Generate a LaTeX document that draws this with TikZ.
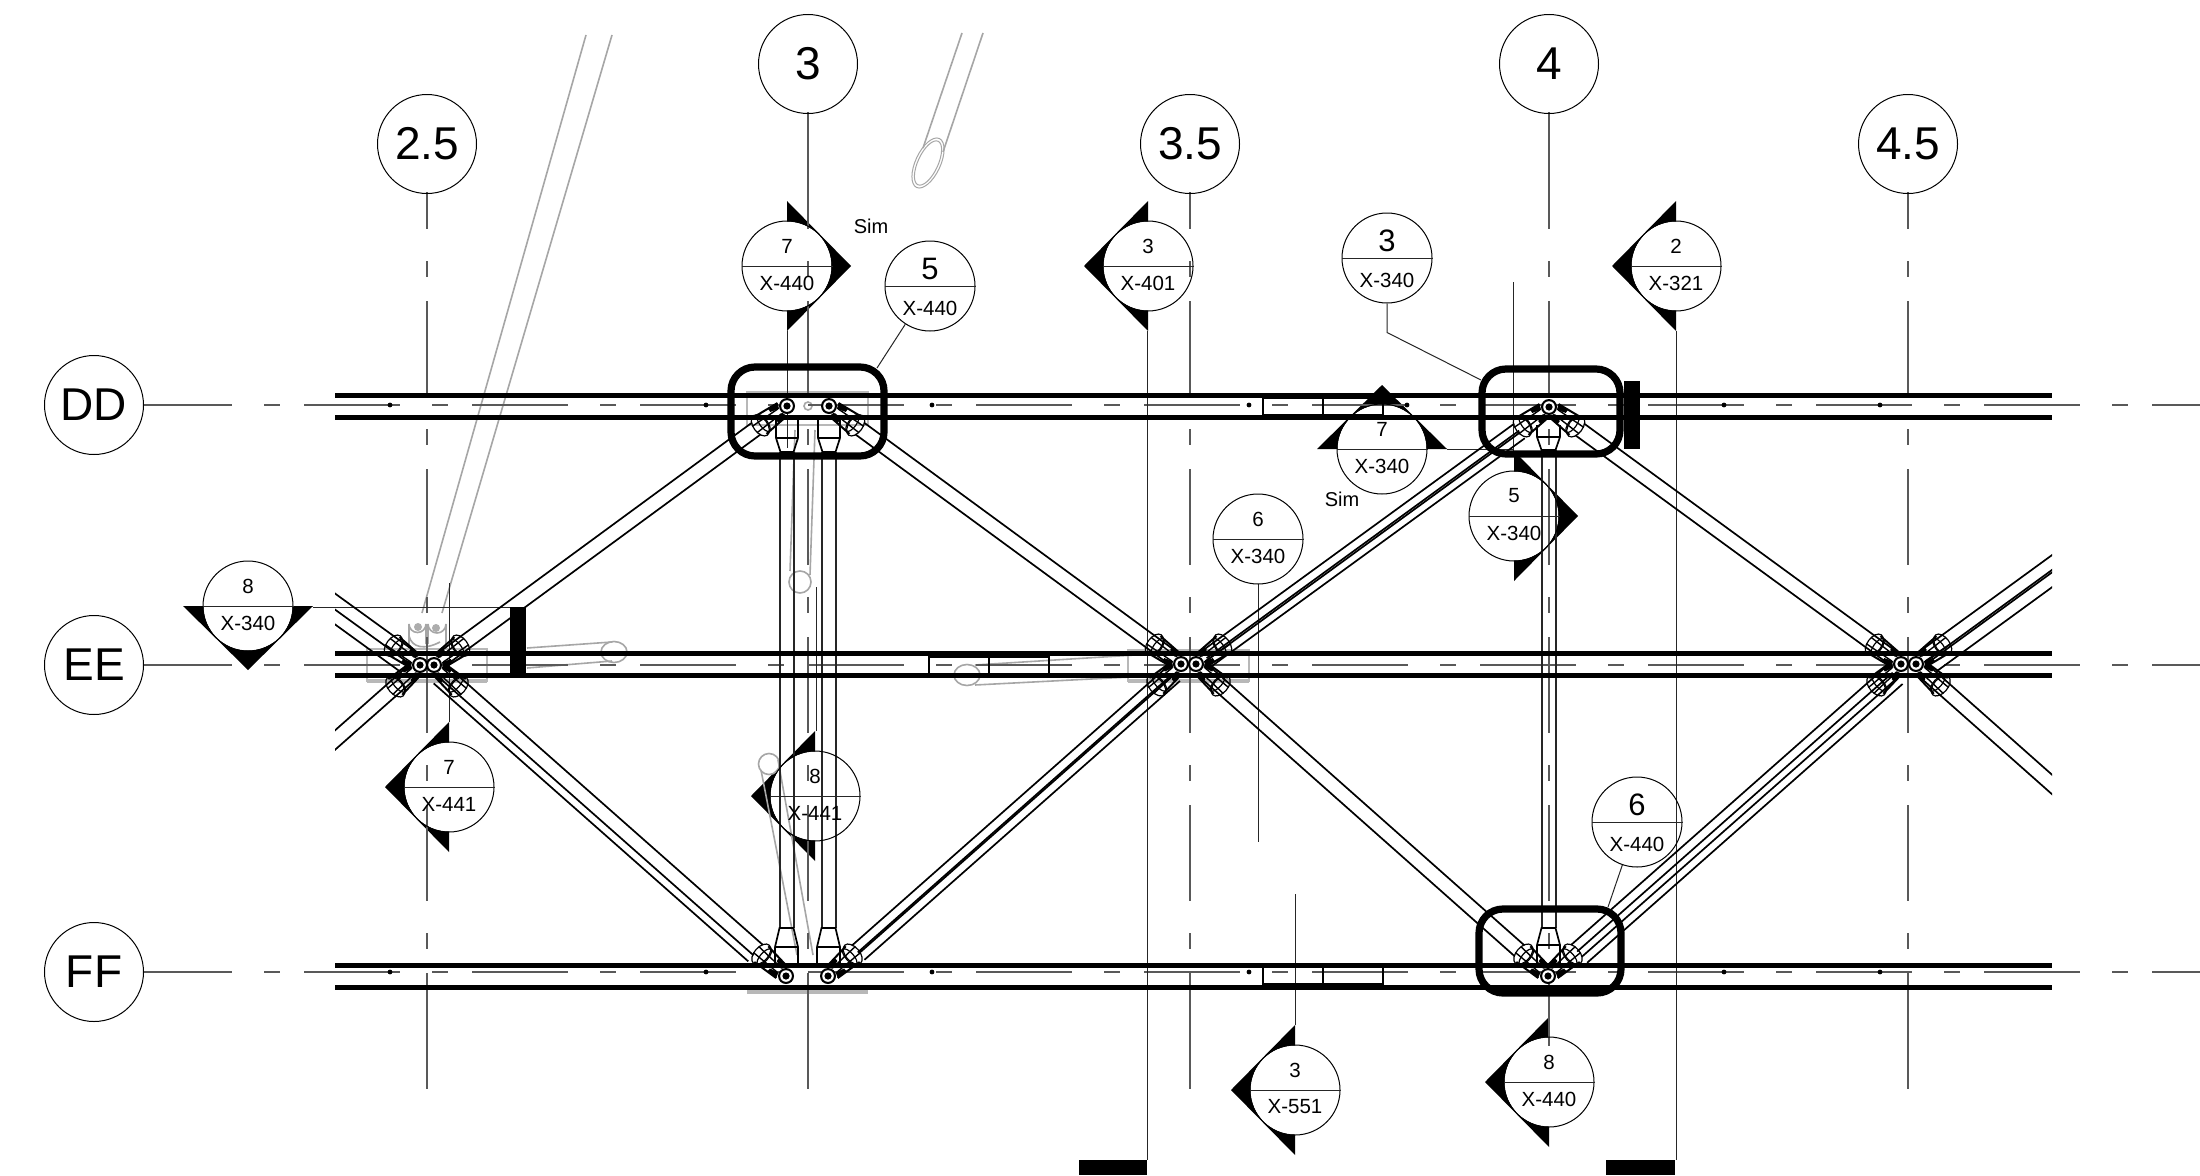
\documentclass[tikz,border=0pt]{standalone}
\usepackage{fontspec}
\setmainfont{Liberation Sans}
\usetikzlibrary{calc}
\tikzset{
  gridbub/.style={circle,draw,line width=1pt,minimum size=99pt,inner sep=0pt,font=\fontsize{46}{50}\selectfont},
  secbub/.style={circle,draw,line width=1pt,minimum size=90pt,inner sep=0pt},
  txtsmall/.style={inner sep=0pt,font=\fontsize{20.5}{24}\selectfont},
  txtbig/.style={inner sep=0pt,font=\fontsize{31}{34}\selectfont},
  axisln/.style={draw=black!65,line width=1.2pt},
  axisdash/.style={axisln,dash pattern=on 96pt off 32pt on 16pt off 24pt},
  thinln/.style={line width=1pt,draw=black!85},
  beamln/.style={line width=5pt},
  tubeln/.style={line width=1.7pt},
  strutln/.style={line width=1.5pt,draw=black!85},
  ghost/.style={draw=black!35,line width=1.6pt},
  ghostthin/.style={draw=black!35,line width=1pt},
  ghostplate/.style={draw=black!28,line width=2pt},
  rimln/.style={line width=7.2pt,rounded corners=24pt},
}
\newcommand{\secback}[3]{\begin{scope}[shift={(#1,#2)},rotate=#3]
  \fill (64,0) -- (0,65) -- (0,-65) -- cycle;
  \fill[white] (0,0) circle (44.5pt);
\end{scope}}
\newcommand{\tube}[5]{\draw[tubeln] ($(#1)!#4pt!(#2)!#3pt!90:(#2)$) -- ($(#2)!#5pt!(#1)!#3pt!-90:(#1)$);}
\newcommand{\pairtube}[4]{\tube{#1}{#2}{7.3}{#3}{#4}\tube{#1}{#2}{-7.3}{#3}{#4}}
\newcommand{\hub}[1]{\fill (#1) circle (8pt); \fill[white] (#1) circle (5.8pt); \fill (#1) circle (3.6pt);}
\newcommand{\fork}[2]{\begin{scope}[shift={(#1)},rotate=#2,line width=1.2pt]
  \draw[line width=2pt] (33,10.5) -- (6,8) (33,-10.5) -- (6,-8);
  \draw[line width=1.4pt] (40,4) -- (9,3) (40,-4) -- (9,-3);
  \fill (6,-8) -- (17,-9) -- (17,-5) -- (8,-2.5) -- cycle;
  \fill (6,8) -- (17,9) -- (17,5) -- (8,2.5) -- cycle;
  \draw (33,0) ellipse [x radius=7,y radius=12];
  \draw (29,0) ellipse [x radius=4,y radius=10];
\end{scope}}
\newcommand{\fitting}[5]{\draw[line width=1.7pt] (#1,#3) -- (#1,#4) -- (#1+4.5,#5) -- (#2-4.5,#5) -- (#2,#4) -- (#2,#3) (#1,#4) -- (#2,#4);}
\begin{document}
\begin{tikzpicture}[x=1pt,y=-1pt]
\useasboundingbox (0,0) rectangle (2200,1175);
\fill[white] (0,0) rectangle (2200,1175);
\coordinate (A1) at (787,406); \coordinate (A2) at (829,406);
\coordinate (B) at (1549,407);
\coordinate (C1) at (420,665); \coordinate (C2) at (434,665);
\coordinate (D1) at (1181,664); \coordinate (D2) at (1196,664);
\coordinate (E1) at (1901,664); \coordinate (E2) at (1916,664);
\coordinate (F1) at (786,976); \coordinate (F2) at (828,976);
\coordinate (G) at (1548,976);
\coordinate (LU) at (300,578); \coordinate (LL) at (300,771);
\coordinate (RU) at (2100,530); \coordinate (RL) at (2100,827);
\secback{787}{266}{0}
\secback{1148}{266}{180}
\secback{1676}{266}{180}
\secback{1382}{449}{90}
\secback{1514}{516}{0}
\secback{248}{606}{-90}
\secback{449}{787}{180}
\secback{815}{796}{180}
\secback{1295}{1090}{180}
\secback{1549}{1082}{180}
% pale background geometry
\draw[ghost] (586,35) -- (422,613) (612,35) -- (442,613);
\draw[ghost] (962,33) -- (923,148) (983,33) -- (943,152);
\draw[ghostthin,rotate around={65:(928,163)}] (928,163) ellipse [x radius=27,y radius=12.5];
\draw[ghostthin,rotate around={65:(928,163)}] (928,163) ellipse [x radius=24,y radius=10];
\draw[ghost] (409,648) -- (409,624) arc[start angle=180,end angle=0,radius=8.5] -- (426,644);
\draw[ghost] (428,644) -- (428,624) arc[start angle=180,end angle=0,radius=9] -- (446,648);
\fill[black!32] (418,627) circle (4pt) (436,628) circle (4pt);
\draw[ghost] (409,636) .. controls (412,648) and (425,650) .. (440,642);
\draw[ghostplate] (367,681) -- (367,649) -- (487,649) -- (487,681) -- cycle;
\draw[ghostplate] (1128,681) -- (1128,650) -- (1249,650) -- (1249,681) -- cycle;
\draw[ghostplate] (747,425) -- (747,392) -- (868,392) -- (868,425) -- cycle;
\draw[draw=black!28,line width=3.5pt] (367,681) -- (487,681) (1128,681) -- (1249,681);
\draw[draw=black!28,line width=3.5pt] (747,992) -- (868,992);
\draw[ghost] (808,406) circle (4pt);
\draw[ghost] (527,648) -- (612,642) (527,668) -- (612,661);
\draw[ghost] (614,652) ellipse [x radius=13,y radius=10.5];
\draw[ghost] (975,665) -- (1135,655) (975,685) -- (1130,677);
\draw[ghost] (967,675) ellipse [x radius=13,y radius=10.5];
\draw[ghost] (795,430) -- (790,571) (815,430) -- (810,575);
\draw[ghost] (800,582) circle (11pt);
\draw[ghost] (769,764) circle (10.5pt);
\draw[ghost] (761,770) -- (797,955) (778,760) -- (813,955);
% grid axes
\draw[axisln] (808,112) -- (808,229) (1549,112) -- (1549,229);
\draw[axisdash,dash phase=96pt] (808,229) -- (808,1069);
\draw[axisdash,dash phase=96pt] (1549,229) -- (1549,1069);
\draw[axisdash,dash phase=59pt] (427,192) -- (427,1069);
\draw[axisdash,dash phase=59pt] (1190,192) -- (1190,1069);
\draw[axisdash,dash phase=59pt] (1908,192) -- (1908,1069);
\draw[axisln] (427,1069) -- (427,1089) (808,1069) -- (808,1089) (1190,1069) -- (1190,1089) (1908,1069) -- (1908,1089);
\fill[white] (1541,1046) rectangle (1557,1075);
\draw[axisdash,dash phase=7pt] (143,405) -- (2200,405);
\draw[axisdash,dash phase=7pt] (143,665) -- (2200,665);
\draw[axisdash,dash phase=7pt] (143,972) -- (2200,972);
% thin section lines
\draw[thinln] (787,331) -- (787,448);
\draw[thinln] (1147,331) -- (1147,1160);
\draw[thinln] (1676,331) -- (1676,1160);
\draw[thinln] (1513,282) -- (1513,451);
\draw[thinln] (1447,449) -- (1513,449);
\draw[thinln] (313,607) -- (510,607);
\draw[thinln] (449,583) -- (449,722);
\draw[thinln] (816,587) -- (816,731);
\draw[thinln] (1258,584) -- (1258,842);
\draw[thinln] (1295,894) -- (1295,1025);
\fill (1079,1160) rectangle (1147,1175);
\fill (1606,1160) rectangle (1675,1175);
\foreach \dx in {390,706,932,1249,1407,1724,1880} {\fill (\dx,405) circle (2.4pt);}
\foreach \dx in {390,706,932,1249,1724,1880} {\fill (\dx,972) circle (2.4pt);}
% splice boxes
\draw[line width=1.6pt] (1263,398) rectangle (1323,415) (1323,398) rectangle (1383,415);
\draw[line width=1.6pt] (1263,967) rectangle (1323,984) (1323,967) rectangle (1383,984);
\draw[line width=1.6pt] (929,657) rectangle (989,674) (989,657) rectangle (1049,674);
% struts
\foreach \sx in {780,794,822,836} {\draw[strutln] (\sx,452) -- (\sx,928);}
\foreach \sx in {1542,1556} {\draw[strutln] (\sx,450) -- (\sx,928);}
\fitting{776}{798}{420}{438}{452}
\fitting{818}{840}{420}{438}{452}
\fitting{775}{798}{966}{947}{928}
\fitting{817}{840}{966}{947}{928}
\fitting{1537}{1560}{425}{437}{450}
\fitting{1537}{1560}{965}{945}{928}
% diagonals
\pairtube{A1}{C2}{38}{12}
\pairtube{A2}{D1}{38}{12}
\pairtube{B}{E1}{38}{12}
\pairtube{D2}{G}{12}{38}
\tube{D2}{B}{7}{12}{38}\tube{D2}{B}{-1.5}{12}{38}\tube{D2}{B}{-3.5}{12}{38}\tube{D2}{B}{-11}{12}{38}
\tube{F2}{D1}{7}{38}{12}\tube{F2}{D1}{-2}{38}{12}\tube{F2}{D1}{-3.5}{38}{12}\tube{F2}{D1}{-12}{38}{12}
\tube{C2}{F1}{8}{12}{38}\tube{C2}{F1}{-6}{12}{38}\tube{C2}{F1}{-14}{12}{38}
\tube{G}{E1}{8}{38}{12}\tube{G}{E1}{-1}{38}{12}\tube{G}{E1}{-8}{38}{12}\tube{G}{E1}{-16}{38}{12}
\begin{scope}
\clip (335,0) rectangle (2052,1175);
\tube{C1}{LU}{-8}{12}{0}\tube{C1}{LU}{5}{12}{0}\tube{C1}{LU}{17}{12}{0}
\pairtube{C1}{LL}{12}{0}
\tube{E2}{RU}{8}{12}{0}\tube{E2}{RU}{-4}{12}{0}\tube{E2}{RU}{-6}{12}{0}\tube{E2}{RU}{-18}{12}{0}
\pairtube{E2}{RL}{12}{0}
\draw[beamln] (335,395) -- (2052,395) (335,417) -- (2052,417);
\draw[beamln] (335,653) -- (2052,653) (335,675) -- (2052,675);
\draw[beamln] (335,965) -- (2052,965) (335,987) -- (2052,987);
\end{scope}
% forks and pins
\fork{A1}{216}\fork{A2}{-36}
\fork{B}{216}\fork{B}{-36}
\fork{C1}{144}\fork{C1}{221.5}\fork{C2}{36}\fork{C2}{-41.5}
\fork{D1}{144}\fork{D1}{221.5}\fork{D2}{36}\fork{D2}{-41.5}
\fork{E1}{144}\fork{E1}{221.5}\fork{E2}{36}\fork{E2}{-41.5}
\fork{F1}{138.5}\fork{F2}{41.5}
\fork{G}{138.5}\fork{G}{41.5}
\hub{A1}\hub{A2}\hub{B}\hub{C1}\hub{C2}\hub{D1}\hub{D2}\hub{E1}\hub{E2}\hub{F1}\hub{F2}\hub{G}
% heavy marks
\draw[rimln] (731,367) rectangle (884,456);
\draw[rimln] (1482,369) rectangle (1620,454);
\draw[rimln] (1479,909) rectangle (1621,993);
\fill (1624,381) rectangle (1640,449);
\fill (510,607) rectangle (526,677);
% grid bubbles
\node[gridbub] (g25) at (427,144) {2.5};
\node[gridbub] (g3) at (808,64) {3};
\node[gridbub] (g35) at (1190,144) {3.5};
\node[gridbub] (g4) at (1549,64) {4};
\node[gridbub] (g45) at (1908,144) {4.5};
\node[gridbub] (gD) at (94,405) {DD};
\node[gridbub] (gE) at (94,665) {EE};
\node[gridbub] (gF) at (94,972) {FF};
% section bubbles
\newcommand{\secsmall}[5]{\node[secbub] (#1) at (#2,#3) {};
  \draw[thinln] (#1.west) -- (#1.east);
  \node[txtsmall] (#1n) at (#2,#3-20) {#4};
  \node[txtsmall] (#1c) at (#2,#3+17) {#5};}
\newcommand{\secbig}[5]{\node[secbub] (#1) at (#2,#3) {};
  \draw[thinln] (#1.west) -- (#1.east);
  \node[txtbig] (#1n) at (#2,#3-17) {#4};
  \node[txtsmall] (#1c) at (#2,#3+22.5) {#5};}
\secsmall{ma}{787}{266}{7}{X-440}
\secsmall{mb}{1148}{266}{3}{X-401}
\secsmall{mc}{1676}{266}{2}{X-321}
\secsmall{md}{1382}{449}{7}{X-340}
\secsmall{me}{1514}{516}{5}{X-340}
\secsmall{mf}{1258}{539}{6}{X-340}
\secsmall{mg}{248}{606}{8}{X-340}
\secsmall{mh}{449}{787}{7}{X-441}
\secsmall{mi}{815}{796}{8}{X-441}
\secsmall{mj}{1295}{1090}{3}{X-551}
\secsmall{mk}{1549}{1082}{8}{X-440}
\secbig{tl}{930}{286}{5}{X-440}
\secbig{tm}{1387}{258}{3}{X-340}
\secbig{tr}{1637}{822}{6}{X-440}
% leaders
\coordinate (rimA) at (877,368);
\coordinate (rimB) at (1481,380);
\coordinate (rimC) at (1608,907);
\draw[thinln] (tl) -- (rimA);
\draw[thinln] (tm.south) -- ++(0,29) -- (rimB);
\draw[thinln] (tr) -- (rimC);
\node[inner sep=0pt,font=\fontsize{20}{24}\selectfont] (sim1) at (871,226) {Sim};
\node[inner sep=0pt,font=\fontsize{20}{24}\selectfont] (sim2) at (1342,499) {Sim};
\end{tikzpicture}
\end{document}
